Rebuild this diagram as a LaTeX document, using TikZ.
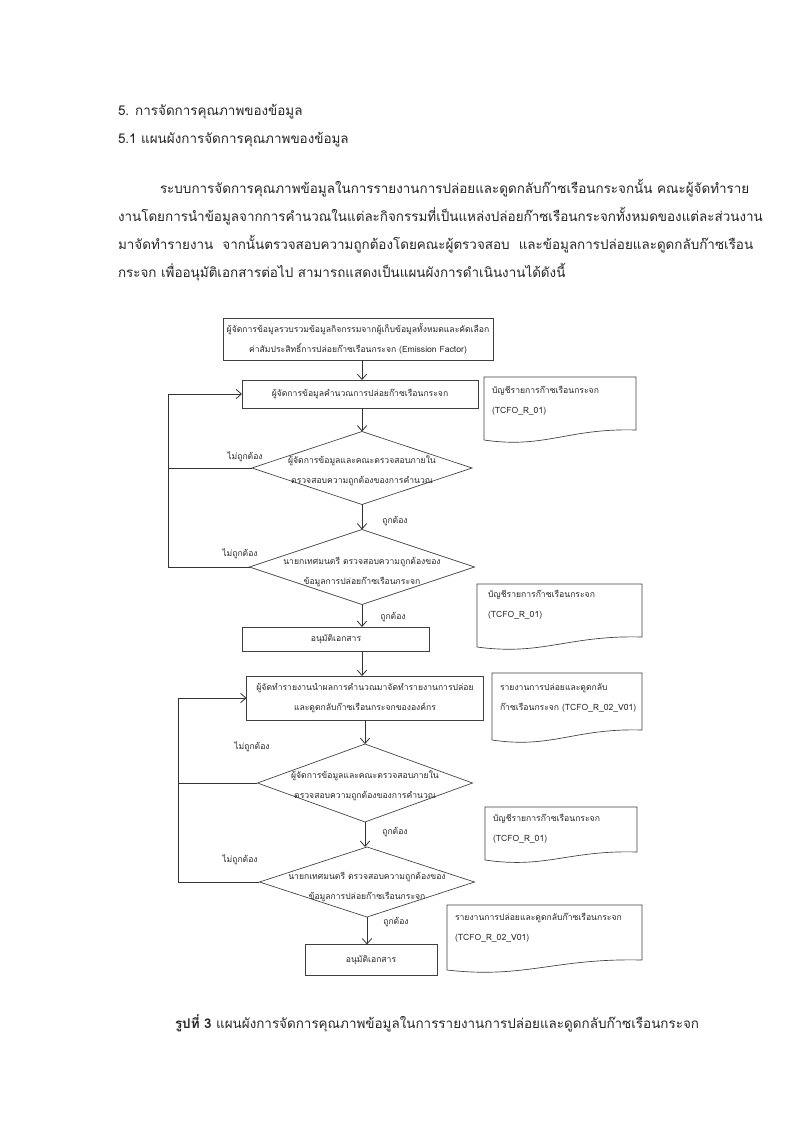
\documentclass[tikz,border=0pt]{standalone}
\usepackage{fontspec}
\setmainfont[Script=Thai]{Loma}
\usetikzlibrary{arrows.meta,calc,shapes.geometric}
\newcommand\fcfont{\fontsize{6.4}{14.8}\selectfont}
\newcommand\bodyfont{\fontsize{10}{20}\selectfont}
\newcommand\docsh[5]{\draw[docline] (#1,#2) -- (#3,#2) -- (#3,#4) .. controls ({#3-0.45*(#3-#1)},{#4-2}) and ({#1+0.4*(#3-#1)},{#5+9}) .. (#1,#5) -- cycle;}
\begin{document}
\begin{tikzpicture}[x=0.744pt,y=-0.744pt,
  every node/.style={inner sep=0pt, outer sep=0pt, text=black!85},
  box/.style={draw=black!75, line width=0.5pt, align=center, font=\fcfont},
  dia/.style={draw=black!75, line width=0.5pt, shape=diamond},
  diatext/.style={align=center, font=\fcfont},
  docline/.style={draw=black!75, line width=0.5pt},
  doctext/.style={align=left, font=\fcfont, anchor=west},
  lbl/.style={font=\fcfont},
  conn/.style={draw=black!80, line width=0.6pt},
  arr/.style={conn, -{Straight Barb[length=4pt,width=7pt]}},
  bodyline/.style={font=\bodyfont, anchor=west}]
\useasboundingbox (0,0) rectangle (800,1131);
\fill[white] (0,0) rectangle (800,1131);

% headings and paragraph
\node[bodyline] (h1) at (118,112) {5. การจัดการคุณภาพของข้อมูล};
\node[bodyline] (h2) at (118,140) {5.1 แผนผังการจัดการคุณภาพของข้อมูล};
\node[bodyline] (p1) at (160,188) {ระบบการจัดการคุณภาพข้อมูลในการรายงานการปล่อยและดูดกลับก๊าซเรือนกระจกนั้น คณะผู้จัดทำราย};
\node[bodyline] (p2) at (118,216) {งานโดยการนำข้อมูลจากการคำนวณในแต่ละกิจกรรมที่เป็นแหล่งปล่อยก๊าซเรือนกระจกทั้งหมดของแต่ละส่วนงาน};
\node[bodyline] (p3) at (118,244) {มาจัดทำรายงาน\ \ จากนั้นตรวจสอบความถูกต้องโดยคณะผู้ตรวจสอบ\ \ และข้อมูลการปล่อยและดูดกลับก๊าซเรือน};
\node[bodyline] (p4) at (118,272) {กระจก เพื่ออนุมัติเอกสารต่อไป สามารถแสดงเป็นแผนผังการดำเนินงานได้ดังนี้};

% flowchart upper half
\node[box, minimum width=200.9pt, minimum height=31.2pt] (b1) at (358,339)
  {ผู้จัดการข้อมูลรวบรวมข้อมูลกิจกรรมจากผู้เก็บข้อมูลทั้งหมดและคัดเลือก\\ค่าสัมประสิทธิ์การปล่อยก๊าซเรือนกระจก (Emission Factor)};
\node[box, minimum width=175.6pt, minimum height=20.8pt] (b2) at (360,394)
  {ผู้จัดการข้อมูลคำนวณการปล่อยก๊าซเรือนกระจก};
\node[dia, minimum width=163.7pt, minimum height=54.3pt] (d1) at (362,468) {};
\node[diatext] (d1t) at (362,471) {ผู้จัดการข้อมูลและคณะตรวจสอบภายใน\\ตรวจสอบความถูกต้องของการคำนวณ};
\node[dia, minimum width=167.4pt, minimum height=55.8pt] (d2) at (362,567) {};
\node[diatext] (d2t) at (362,572) {นายกเทศมนตรี ตรวจสอบความถูกต้องของ\\ข้อมูลการปล่อยก๊าซเรือนกระจก};
\node[box, minimum width=139.1pt, minimum height=17.9pt] (b3) at (336,639) {อนุมัติเอกสาร};

% flowchart lower half
\node[box, minimum width=176.3pt, minimum height=32.7pt] (b4) at (365,698)
  {ผู้จัดทำรายงานนำผลการคำนวณมาจัดทำรายงานการปล่อย\\และดูดกลับก๊าซเรือนกระจกขององค์กร};
\node[dia, minimum width=160pt, minimum height=58pt] (d3) at (365,783) {};
\node[diatext] (d3t) at (365,786) {ผู้จัดการข้อมูลและคณะตรวจสอบภายใน\\ตรวจสอบความถูกต้องของการคำนวณ};
\node[dia, minimum width=160pt, minimum height=52.1pt] (d4) at (367,882) {};
\node[diatext] (d4t) at (367,887) {นายกเทศมนตรี ตรวจสอบความถูกต้องของ\\ข้อมูลการปล่อยก๊าซเรือนกระจก};
\node[box, minimum width=98.2pt, minimum height=23.1pt] (b5) at (371,960) {อนุมัติเอกสาร};

% documents
\docsh{484}{377}{636}{430}{440}
\node[doctext] (t1) at (492,401) {บัญชีรายการก๊าซเรือนกระจก\\(TCFO\_R\_01)};
\docsh{477}{584}{642}{637}{647}
\node[doctext] (t2) at (488,605) {บัญชีรายการก๊าซเรือนกระจก\\(TCFO\_R\_01)};
\docsh{492}{673}{642}{730}{740}
\node[doctext] (t3) at (500,698) {รายงานการปล่อยและดูดกลับ\\ก๊าซเรือนกระจก (TCFO\_R\_02\_V01)};
\docsh{485}{807}{637}{852}{860}
\node[doctext] (t4) at (493,829) {บัญชีรายการก๊าซเรือนกระจก\\(TCFO\_R\_01)};
\docsh{447}{905}{642}{960}{970}
\node[doctext] (t5) at (455,928) {รายงานการปล่อยและดูดกลับก๊าซเรือนกระจก\\(TCFO\_R\_02\_V01)};

% connectors
\coordinate (lx1) at (168,0);
\coordinate (lx2) at (178,0);
\draw[arr] (b1.south -| d1.north) -- (b2.north -| d1.north);
\draw[arr] (b2.south -| d1.north) -- (d1.north);
\draw[arr] (d1.south) -- (d2.north);
\draw[arr] (d2.south) -- (d2.south |- b3.north);
\draw[arr] (b3.south -| d2.south) -- (b4.north -| d2.south);
\draw[conn] (d1.west) -- (d1.west -| lx1);
\draw[arr] (d2.west) -- (d2.west -| lx1) |- (b2.west);
\draw[arr] (b4.south -| d3.north) -- (d3.north);
\draw[arr] (d3.south) -- (d3.south |- d4.north);
\draw[arr] (d4.south) -- (d4.south |- b5.north);
\draw[conn] (d3.west) -- (d3.west -| lx2);
\draw[arr] (d4.west) -- (d4.west -| lx2) |- (b4.west);

% labels
\node[lbl] (n1) at (245,457) {ไม่ถูกต้อง};
\node[lbl] (y1) at (395,521) {ถูกต้อง};
\node[lbl] (n2) at (240,554) {ไม่ถูกต้อง};
\node[lbl] (y2) at (393,617) {ถูกต้อง};
\node[lbl] (n3) at (252,747) {ไม่ถูกต้อง};
\node[lbl] (y3) at (395,832) {ถูกต้อง};
\node[lbl] (n4) at (240,860) {ไม่ถูกต้อง};
\node[lbl] (y4) at (396,922) {ถูกต้อง};

% caption
\node[font=\bodyfont, anchor=west] (cap) at (175,1023) {\textbf{รูปที่ 3} แผนผังการจัดการคุณภาพข้อมูลในการรายงานการปล่อยและดูดกลับก๊าซเรือนกระจก};
\end{tikzpicture}
\end{document}
